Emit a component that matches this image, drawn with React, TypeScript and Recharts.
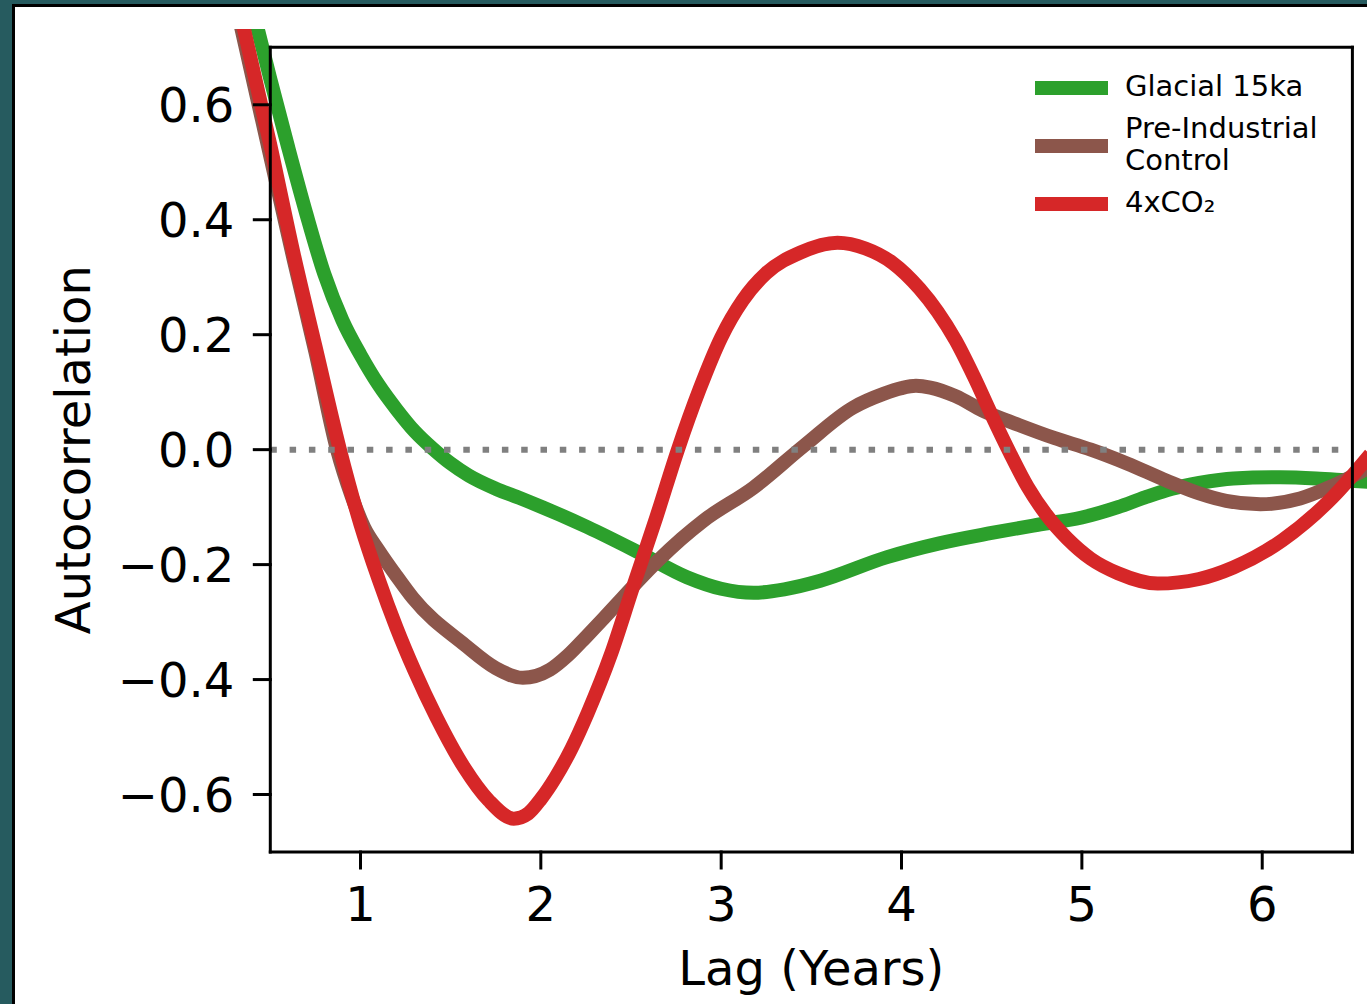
import { LineChart, Line, XAxis, YAxis, ReferenceLine, Legend } from 'recharts'

// lag (years) / autocorrelation
const glacialLag = [0.4, 0.5, 0.6, 0.7, 0.8, 0.9, 1.0, 1.1, 1.2, 1.3, 1.4, 1.5, 1.6, 1.75, 1.89, 2.26, 2.55, 2.81, 3.0, 3.18, 3.35, 3.55, 3.92, 4.21, 4.5, 4.73, 5.0, 5.2, 5.35, 5.5, 5.65, 5.84, 6.1, 6.3, 6.49, 6.6]
const glacialAcf = [0.77, 0.645, 0.525, 0.41, 0.305, 0.225, 0.165, 0.113, 0.07, 0.032, 0.002, -0.024, -0.045, -0.068, -0.085, -0.135, -0.18, -0.222, -0.242, -0.249, -0.243, -0.228, -0.187, -0.163, -0.145, -0.132, -0.118, -0.1, -0.083, -0.068, -0.058, -0.05, -0.048, -0.05, -0.054, -0.056]

const preIndLag = [0.32, 0.5, 0.63, 0.75, 0.87, 0.95, 1.02, 1.1, 1.2, 1.29, 1.58, 1.75, 1.9, 2.05, 2.15, 2.25, 2.35, 2.45, 2.55, 2.65, 2.78, 2.9, 3.18, 3.46, 3.73, 3.9, 4.0, 4.08, 4.16, 4.3, 4.45, 4.65, 4.85, 5.05, 5.25, 5.47, 5.65, 5.8, 5.99, 6.21, 6.39, 6.6]
const preIndAcf = [0.76, 0.51, 0.33, 0.17, 0.0, -0.08, -0.135, -0.175, -0.22, -0.258, -0.34, -0.38, -0.397, -0.383, -0.358, -0.326, -0.293, -0.259, -0.225, -0.193, -0.155, -0.124, -0.066, 0.007, 0.073, 0.097, 0.107, 0.111, 0.108, 0.093, 0.068, 0.043, 0.02, 0.0, -0.024, -0.054, -0.076, -0.089, -0.095, -0.085, -0.063, -0.03]

const co2Lag = [0.33, 0.5, 0.63, 0.75, 0.886, 1.0, 1.1, 1.2, 1.3, 1.42, 1.575, 1.71, 1.85, 1.93, 2.0, 2.08, 2.17, 2.26, 2.39, 2.51, 2.64, 2.76, 2.88, 3.0, 3.12, 3.25, 3.44, 3.645, 3.8, 3.95, 4.1, 4.2, 4.3, 4.4, 4.5, 4.6, 4.7, 4.8, 4.92, 5.05, 5.2, 5.42, 5.65, 5.84, 6.11, 6.39, 6.6]
const co2Acf = [0.765, 0.53, 0.34, 0.18, 0.0, -0.13, -0.225, -0.31, -0.385, -0.465, -0.553, -0.61, -0.642, -0.633, -0.608, -0.571, -0.52, -0.458, -0.355, -0.24, -0.118, 0.0, 0.105, 0.195, 0.26, 0.307, 0.343, 0.36, 0.35, 0.325, 0.28, 0.24, 0.19, 0.128, 0.06, -0.005, -0.065, -0.112, -0.155, -0.19, -0.215, -0.233, -0.225, -0.205, -0.158, -0.083, -0.008]

const xTicks = [1, 2, 3, 4, 5, 6]
const yTicks = [-0.6, -0.4, -0.2, 0, 0.2, 0.4, 0.6]
const xDomain = [0.5, 6.5]
const yDomain = [-0.7, 0.7]

const toPoints = (lags: number[], acf: number[]) => lags.map((lag, i) => ({ lag, acf: acf[i] }))

const SERIES = [
  { name: 'Glacial 15ka', color: '#2ca02c', data: toPoints(glacialLag, glacialAcf) },
  { name: 'Pre-Industrial\nControl', color: '#8c564b', data: toPoints(preIndLag, preIndAcf) },
  { name: '4xCO\u2082', color: '#d62728', data: toPoints(co2Lag, co2Acf) },
]

const FONT = '"DejaVu Sans", sans-serif'
const tickStyle = { fill: '#000', fontSize: 48, fontFamily: FONT }

const fmtY = (v: number) => (v < 0 ? '\u2212' : '') + Math.abs(v).toFixed(1)

function XLabel({ viewBox }: any) {
  return (
    <text x={viewBox.x + viewBox.width / 2} y={viewBox.y + 133} textAnchor="middle" fontSize={48} fontFamily={FONT} fill="#000">
      Lag (Years)
    </text>
  )
}

function YLabel({ viewBox }: any) {
  const x = viewBox.x + viewBox.width - 180
  const y = viewBox.y + viewBox.height / 2
  return (
    <text x={x} y={y} transform={`rotate(-90, ${x}, ${y})`} textAnchor="middle" fontSize={48} fontFamily={FONT} fill="#000">
      Autocorrelation
    </text>
  )
}

function LegendBox({ payload }: any) {
  const order = SERIES.map((s) => s.name)
  const items = [...(payload ?? [])].sort((a: any, b: any) => order.indexOf(a.value) - order.indexOf(b.value))
  let row = 0
  return (
    <svg width={347} height={200} style={{ display: 'block', overflow: 'visible' }}>
      {items.map((entry: any, i: number) => {
        const lines = String(entry.value).split('\n')
        const baselines = lines.map((_, j) => 27 + (row + j) * 32 + i * 10)
        row += lines.length
        const mid = baselines.reduce((a, b) => a + b, 0) / baselines.length - 8
        return (
          <g key={i}>
            <line x1={15} x2={88} y1={mid} y2={mid} stroke={entry.color} strokeWidth={14} />
            {lines.map((t, j) => (
              <text key={j} x={105} y={baselines[j]} fontSize={29} fontFamily={FONT} fill="#000">
                {t}
              </text>
            ))}
          </g>
        )
      })}
    </svg>
  )
}

const css = `
body{margin:0;overflow:hidden}
svg .recharts-line, svg .recharts-line [clip-path]{clip-path:none !important}
svg .recharts-cartesian-axis-line, svg .recharts-cartesian-axis-tick-line{stroke:#000 !important;stroke-width:3px !important;stroke-linecap:square}
`

export default function App() {
  return (
    <div style={{ position: 'absolute', left: 0, top: 0, width: 1367, height: 1004, background: '#265b5f', overflow: 'hidden' }}>
      <style>{css}</style>
      <div style={{ position: 'absolute', left: 12, top: 3.5, width: 1400, height: 1050, border: '3px solid #000', background: '#fff' }} />
      <div style={{ position: 'absolute', left: 0, top: 29 }}>
        <LineChart width={1367} height={975} margin={{ top: 18.3, right: 14.6, bottom: 92, left: 120.3 }}>
          <XAxis
            dataKey="lag"
            type="number"
            domain={xDomain}
            allowDataOverflow
            ticks={xTicks}
            interval={0}
            height={60}
            axisLine={{ stroke: '#000', strokeWidth: 3 }}
            tickLine={{ stroke: '#000', strokeWidth: 3 }}
            tickSize={16}
            tickMargin={19}
            tick={tickStyle}
            label={XLabel}
          />
          <YAxis
            type="number"
            domain={yDomain}
            allowDataOverflow
            ticks={yTicks}
            interval={0}
            width={150}
            axisLine={{ stroke: '#000', strokeWidth: 3 }}
            tickLine={{ stroke: '#000', strokeWidth: 3 }}
            tickSize={16}
            tickMargin={20}
            tick={tickStyle}
            tickFormatter={fmtY}
            label={YLabel}
          />
          {SERIES.map((s) => (
            <Line
              key={s.name}
              data={s.data}
              dataKey="acf"
              name={s.name}
              type="monotone"
              stroke={s.color}
              strokeWidth={14}
              strokeLinejoin="round"
              dot={false}
              activeDot={false}
              isAnimationActive={false}
            />
          ))}
          <ReferenceLine y={0} stroke="#808080" strokeWidth={6} strokeDasharray="6.5 12.8" />
          {/* top and right spines */}
          <ReferenceLine y={yDomain[1]} stroke="#000" strokeWidth={3} strokeLinecap="square" />
          <ReferenceLine x={xDomain[1]} stroke="#000" strokeWidth={3} strokeLinecap="square" />
          <Legend
            layout="horizontal"
            verticalAlign="middle"
            align="center"
            content={LegendBox}
            wrapperStyle={{ left: 1020, top: 40, width: 347, height: 200 }}
          />
        </LineChart>
      </div>
    </div>
  )
}
